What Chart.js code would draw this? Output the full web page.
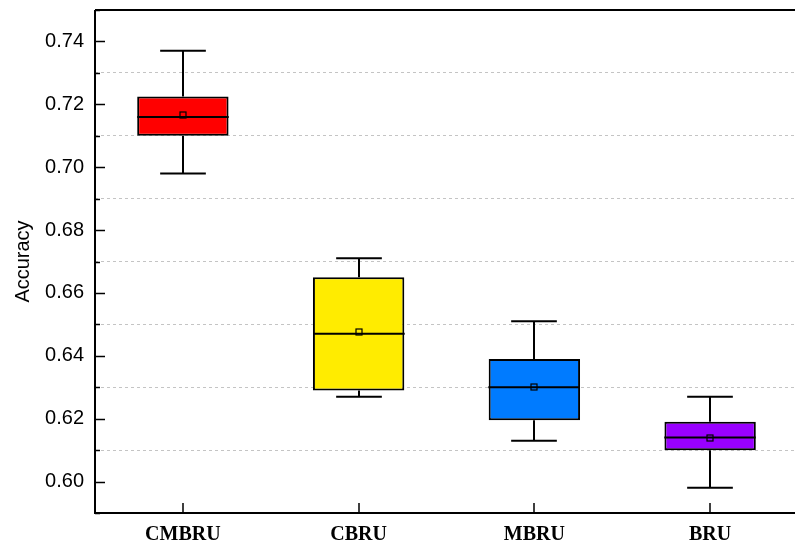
<!DOCTYPE html>
<html>
<head>
<meta charset="utf-8">
<script src="https://cdn.jsdelivr.net/npm/chart.js@4.4.1/dist/chart.umd.min.js"></script>
<style>
  html, body { margin: 0; padding: 0; background: #fff; overflow: hidden; }
  #boxChart { display: block; }
</style>
</head>
<body>
<canvas id="boxChart" width="798" height="544"></canvas>
<script>
const categories = ['CMBRU', 'CBRU', 'MBRU', 'BRU'];
const whiskerLow = [0.698, 0.627, 0.613, 0.598];
const q1 = [0.710, 0.629, 0.6195, 0.610];
const median = [0.716, 0.647, 0.630, 0.614];
const q3 = [0.7225, 0.665, 0.639, 0.619];
const whiskerHigh = [0.737, 0.671, 0.651, 0.627];
const mean = [0.7165, 0.6475, 0.630, 0.6138];
const boxColors = ['#ff0000', '#ffec00', '#007bff', '#9900ff'];

// whiskers, median, mean and the axis frame
const boxExtras = {
  id: 'boxExtras',
  afterDatasetsDraw(chart) {
    const ctx = chart.ctx;
    const y = chart.scales.y;
    const x = chart.scales.x;
    const area = chart.chartArea;
    const meta = chart.getDatasetMeta(0);
    ctx.save();
    ctx.strokeStyle = '#000';
    ctx.lineWidth = 2;
    meta.data.forEach((bar, i) => {
      const cx = Math.round(bar.x);
      const half = bar.width / 2;
      const cap = bar.width / 4;
      const pHigh = y.getPixelForValue(whiskerHigh[i]);
      const pLow = y.getPixelForValue(whiskerLow[i]);
      const pQ1 = y.getPixelForValue(q1[i]);
      const pQ3 = y.getPixelForValue(q3[i]);
      const pMed = y.getPixelForValue(median[i]);
      ctx.beginPath();
      ctx.moveTo(cx, pQ3); ctx.lineTo(cx, pHigh);
      ctx.moveTo(cx - cap, pHigh); ctx.lineTo(cx + cap, pHigh);
      ctx.moveTo(cx, pQ1); ctx.lineTo(cx, pLow);
      ctx.moveTo(cx - cap, pLow); ctx.lineTo(cx + cap, pLow);
      ctx.moveTo(cx - half, pMed); ctx.lineTo(cx + half, pMed);
      ctx.stroke();
      const pMean = y.getPixelForValue(mean[i]);
      ctx.lineWidth = 1.2;
      ctx.strokeRect(cx - 3, Math.round(pMean) - 3, 6, 6);
      ctx.lineWidth = 2;
    });

    // frame: left, bottom, top
    ctx.beginPath();
    ctx.moveTo(area.left, area.top); ctx.lineTo(area.left, area.bottom);
    ctx.lineTo(area.right, area.bottom);
    ctx.moveTo(area.left, area.top); ctx.lineTo(area.right, area.top);
    ctx.stroke();

    // inward ticks
    ctx.lineWidth = 1.5;
    ctx.beginPath();
    y.ticks.forEach(t => {
      const p = Math.round(y.getPixelForValue(t.value)) + 0.5;
      const len = Math.round(t.value * 100) % 2 === 0 ? 10 : 5;
      ctx.moveTo(area.left, p); ctx.lineTo(area.left + len, p);
    });
    categories.forEach((c, i) => {
      const p = Math.round(x.getPixelForValue(i));
      ctx.moveTo(p, area.bottom); ctx.lineTo(p, area.bottom - 10);
    });
    ctx.stroke();
    ctx.restore();
  }
};

const ctx = document.getElementById('boxChart').getContext('2d');

const boxChart = new Chart(ctx, {
  type: 'bar',
  data: {
    labels: categories,
    datasets: [{
      data: categories.map((c, i) => [q1[i], q3[i]]),
      backgroundColor: boxColors,
      borderColor: '#000',
      borderWidth: 2,
      borderSkipped: false,
      barPercentage: 0.52,
      categoryPercentage: 1,
    }],
  },
  options: {
    responsive: false,
    animation: false,
    devicePixelRatio: 1,
    layout: { padding: { top: 10, right: 0, left: 0, bottom: 0 } },
    plugins: {
      legend: { display: false },
      tooltip: { enabled: false },
    },
    scales: {
      x: {
        grid: { display: false, drawTicks: false },
        border: { display: false },
        ticks: {
          color: '#000',
          padding: 10,
          font: { family: 'Liberation Serif', weight: 'bold', size: 20 },
        },
        afterFit(scale) { scale.height = 31; scale.paddingLeft = 0; scale.paddingRight = 0; },
      },
      y: {
        min: 0.59,
        max: 0.75,
        grid: {
          drawTicks: false,
          lineWidth: 1,
          color: c => (Math.round(c.tick.value * 100) % 2 === 1 ? '#c4c4c4' : 'rgba(0,0,0,0)'),
        },
        border: { display: false, dash: [3, 3] },
        ticks: {
          stepSize: 0.01,
          autoSkip: false,
          color: '#000',
          padding: 11,
          font: { family: 'Liberation Sans', size: 20 },
          callback: v => (Math.round(v * 100) % 2 === 0 ? v.toFixed(2) : ''),
        },
        title: {
          display: true,
          text: 'Accuracy',
          color: '#000',
          font: { family: 'Liberation Sans', size: 20 },
          padding: { top: 11, bottom: 0 },
        },
        afterFit(scale) { scale.width = 95; scale.paddingTop = 0; scale.paddingBottom = 0; },
      },
    },
  },
  plugins: [boxExtras],
});
</script>
</body>
</html>
